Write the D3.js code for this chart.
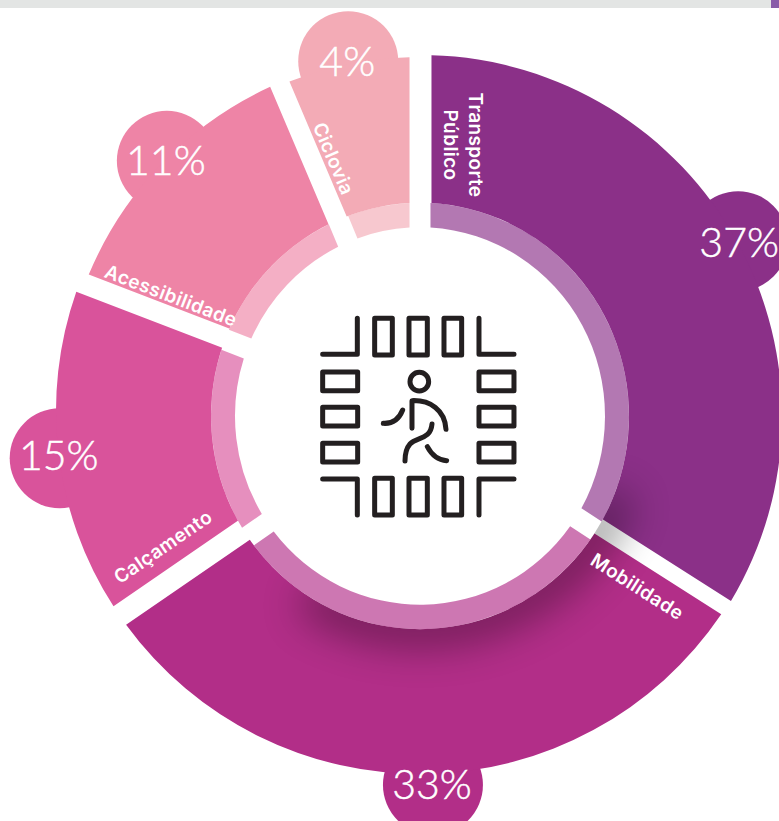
<!DOCTYPE html>
<html>

<head>
	<meta charset="utf-8">
	<script src="https://cdn.jsdelivr.net/npm/d3@7"></script>
	<style>
		html, body {
			margin: 0;
			padding: 0;
			background: #fff;
			overflow: hidden;
		}

		svg {
			display: block;
		}

		.pct {
			font-family: "Lato", sans-serif;
			font-weight: 300;
			font-size: 41px;
			fill: #fff;
			stroke: #fff;
			stroke-width: 0.5;
			text-anchor: middle;
			dominant-baseline: central;
		}

		.name {
			font-family: "Inter", sans-serif;
			font-weight: 600;
			font-size: 19px;
			letter-spacing: 0.4px;
			fill: #fff;
			text-anchor: middle;
			dominant-baseline: central;
		}

		.icon * {
			fill: none;
			stroke: #231f20;
			stroke-width: 15;
			stroke-linecap: round;
			stroke-linejoin: round;
		}
	</style>
</head>

<body>
	<svg></svg>
	<script>
		var categories = ["Transporte Público", "Mobilidade", "Calçamento", "Acessibilidade", "Ciclovia"];
		var shares = [37, 33, 15, 11, 4];
		// The slices in the picture are not to scale with the printed shares, so
		// their sweep (degrees) is read off separately
		var sweeps = [122.5, 113, 55.5, 46, 23];
		var colors = ["#8b3088", "#b22e88", "#d9539b", "#ee84a6", "#f3abb6"];

		var width = 779;
		var height = 821;
		var cx = 420;
		var cy = 414;

		var svg = d3.select("svg")
			.attr("width", width)
			.attr("height", height);

		// Strip along the top of the page
		svg.append("rect").attr("width", 771).attr("height", 8).attr("fill", "#e3e5e4");
		svg.append("rect").attr("x", 771).attr("width", 8).attr("height", 8).attr("fill", "#8a5ca8");

		var defs = svg.append("defs");
		defs.append("filter")
			.attr("id", "soft")
			.attr("x", "-30%").attr("y", "-30%").attr("width", "160%").attr("height", "160%")
			.append("feGaussianBlur")
			.attr("stdDeviation", 20);

		var toRad = d3.scaleLinear().domain([0, 360]).range([0, 2 * Math.PI]);

		var pie = d3.pie().sort(null).value((d, i) => sweeps[i]);
		var slices = pie(categories);

		var ring = d3.arc()
			.innerRadius(185)
			.outerRadius(209)
			.padRadius(100)
			.padAngle(0.21);

		// The slices do not share one exact centre: [dx, dy, outer radius]
		var rimFit = [[1, 2, 361], [0, -4, 364], [-4, -3, 360], [0, -1, 359], [0, 2, 359]];

		var chart = svg.append("g")
			.attr("transform", "translate(" + cx + "," + cy + ")");

		function polar(deg, r) {
			var a = toRad(deg);
			return [Math.sin(a) * r, -Math.cos(a) * r];
		}

		// Bubbles sitting on the rim: [angle, radius]
		var bubblePlace = [[61.5, 362], [178, 371], [263, 363], [315, 358], [348.5, 360]];
		// Small correction of the printed share inside its bubble: [dx, dy]
		var pctNudge = [[1, 0], [-1, -1], [-1, -4], [-1, -1], [-1, -1]];

		chart.selectAll(".bubble")
			.data(slices)
			.join("circle")
			.attr("class", "bubble")
			.attr("cx", (d, i) => polar(bubblePlace[i][0], bubblePlace[i][1])[0])
			.attr("cy", (d, i) => polar(bubblePlace[i][0], bubblePlace[i][1])[1])
			.attr("r", 50)
			.attr("fill", (d, i) => colors[i]);

		chart.selectAll(".wedge")
			.data(slices)
			.join("path")
			.attr("class", "wedge")
			.attr("transform", (d, i) => "translate(" + rimFit[i][0] + "," + rimFit[i][1] + ")")
			.attr("d", (d, i) => d3.arc()
				.innerRadius(185)
				.outerRadius(rimFit[i][2])
				.padRadius(100)
				.padAngle(0.21)(d))
			.attr("fill", (d, i) => colors[i]);

		// Soft shadow thrown by the ring on the lower right
		chart.append("path")
			.attr("d", d3.arc()({ innerRadius: 195, outerRadius: 232, startAngle: toRad(112), endAngle: toRad(212) }))
			.attr("fill", "#000")
			.attr("opacity", 0.38)
			.attr("filter", "url(#soft)");

		// White hub with the translucent ring on top, very slightly taller than wide
		var hub = chart.append("g")
			.attr("transform", "translate(0,2) scale(1,1.02)");
		hub.append("circle").attr("r", 209).attr("fill", "#fff");
		hub.selectAll(".ring")
			.data(slices)
			.join("path")
			.attr("class", "ring")
			.attr("d", ring)
			.attr("fill", (d, i) => colors[i])
			.attr("opacity", 0.65);

		chart.selectAll(".pct")
			.data(slices)
			.join("text")
			.attr("class", "pct")
			.attr("x", (d, i) => polar(bubblePlace[i][0], bubblePlace[i][1])[0] + pctNudge[i][0])
			.attr("y", (d, i) => polar(bubblePlace[i][0], bubblePlace[i][1])[1] + pctNudge[i][1])
			.text((d, i) => shares[i] + "%");

		// Names run along each slice's leading edge: [radius, offset from edge]
		var namePlace = [[269, 43], [276, 29], [287, 36], [275, 21], [269, 20]];

		var names = chart.selectAll(".label")
			.data(slices)
			.join("g")
			.attr("class", "label")
			.attr("transform", (d, i) => {
				var deg = d.startAngle * 180 / Math.PI;
				var turn = Math.cos(toRad(deg + 90)) < 0 ? -90 : 90;
				return "rotate(" + deg + ") translate(" + namePlace[i][1] + "," + (-namePlace[i][0]) + ") rotate(" + turn + ")";
			});

		names.each(function (d, i) {
			var lines = categories[i].split(" ");
			d3.select(this).selectAll("text")
				.data(lines)
				.join("text")
				.attr("class", "name")
				.attr("y", (l, j) => (j - (lines.length - 1) / 2) * 25)
				.text(l => l);
		});

		// Crosswalk icon, drawn in a 720 unit box
		var icon = svg.append("g")
			.attr("class", "icon")
			.attr("transform", "translate(300,300) scale(0.3333)");

		var corners = ["M68,163H172V55", "M537,55V163H642", "M68,537H172V645", "M642,537H537V645"];
		icon.selectAll(".corner").data(corners).join("path").attr("class", "corner").attr("d", d => d);

		var tall = [224, 327, 432];
		var wide = [216, 322, 430];
		[55, 535].forEach(y => {
			tall.forEach(x => {
				icon.append("rect").attr("x", x).attr("y", y).attr("width", x === 327 ? 55 : 53).attr("height", 110);
			});
		});
		[68, 537].forEach(x => {
			wide.forEach(y => {
				icon.append("rect").attr("x", x).attr("y", y).attr("width", 105).attr("height", 56);
			});
		});

		icon.append("circle").attr("cx", 358).attr("cy", 245).attr("r", 28);
		var walker = [
			"M336,385V302C390,300 435,330 438,388",
			"M250,370C280,372 298,355 308,330",
			"M396,372C392,420 350,410 330,432C316,448 315,465 315,483",
			"M382,440C395,465 412,480 440,482"
		];
		icon.selectAll(".walker").data(walker).join("path").attr("class", "walker").attr("d", d => d);
	</script>
</body>

</html>
